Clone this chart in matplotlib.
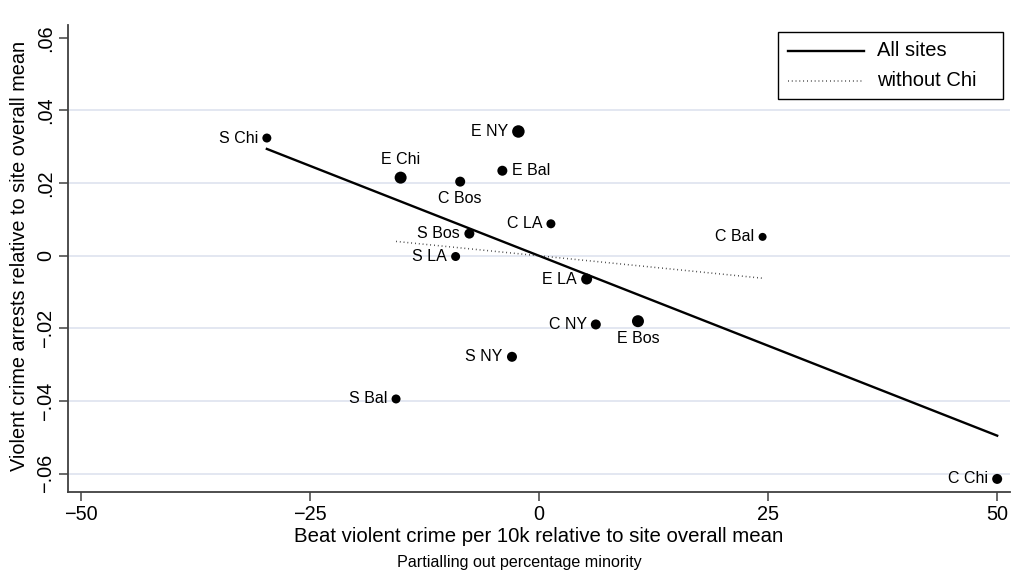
import numpy as np
import matplotlib.pyplot as plt
from matplotlib.lines import Line2D
from matplotlib.patches import Rectangle

plt.rcParams['font.family'] = ['Liberation Sans', 'DejaVu Sans']

# site/arm labels, beat violent crime (x) and violent crime arrests (y)
labels = ['S Chi', 'E NY', 'E Chi', 'C Bos', 'E Bal', 'C LA', 'S Bos', 'S LA',
          'E LA', 'C NY', 'E Bos', 'S NY', 'S Bal', 'C Bal', 'C Chi']
x_vals = [-29.7, -2.25, -15.1, -8.6, -4.0, 1.3, -7.6, -9.1,
          5.2, 6.2, 10.8, -2.95, -15.6, 24.4, 50.0]
y_vals = [0.0324, 0.0342, 0.0215, 0.0204, 0.0234, 0.0088, 0.0061, -0.0002,
          -0.0064, -0.0189, -0.0180, -0.0278, -0.0394, 0.0052, -0.0614]
# marker diameter in pixels (weights)
marker_px = [9, 12.5, 12, 10, 10, 9, 10, 9, 11, 10, 12, 10, 9, 8, 10]
# label position relative to the point
label_pos = ['left', 'left', 'top', 'bottom', 'right', 'left', 'left', 'left',
             'left', 'left', 'bottom', 'left', 'left', 'left', 'left']

# fitted slopes (lines pass through the origin)
slope_all = -0.00099
slope_nochi = -0.000253

x_ticks = [-50, -25, 0, 25, 50]
y_ticks = [-0.06, -0.04, -0.02, 0, 0.02, 0.04, 0.06]
y_ticklabels = ['-.06', '-.04', '-.02', '0', '.02', '.04', '.06']
grid_y = [-0.06, -0.04, -0.02, 0, 0.02, 0.04]

x = np.array(x_vals)
y = np.array(y_vals)

W, H = 1013, 578
fig = plt.figure(figsize=(W / 100, H / 100), dpi=100)
ax = fig.add_axes([68 / W, 1 - 492 / H, (1010 - 68) / W, (492 - 25) / H])

for g in grid_y:
    ax.axhline(g, color='#e1e5f0', lw=1.3, zorder=0)

solid_style = dict(color='black', lw=1.7)
dot_style = dict(color='#222222', lw=1.1, ls=(0, (0.5, 2.0)))

# regression lines
xa = np.array([x.min(), x.max()])
ax.plot(xa, slope_all * xa, zorder=2, **solid_style)
nochi = np.array(['Chi' not in s for s in labels])
xn = np.array([x[nochi].min(), x[nochi].max()])
ax.plot(xn, slope_nochi * xn, zorder=2, **dot_style)

ax.scatter(x, y, s=(np.array(marker_px) * 0.72) ** 2, color='black', zorder=3,
           linewidths=0)

for lab, xi, yi, pos, mp in zip(labels, x, y, label_pos, marker_px):
    off = mp / 2 * 0.72 + 3
    if pos == 'left':
        ax.annotate(lab, (xi, yi), xytext=(-off, 0), textcoords='offset points',
                    ha='right', va='center', fontsize=11.5)
    elif pos == 'right':
        ax.annotate(lab, (xi, yi), xytext=(off, 0), textcoords='offset points',
                    ha='left', va='center', fontsize=11.5)
    elif pos == 'top':
        ax.annotate(lab, (xi, yi), xytext=(0, off), textcoords='offset points',
                    ha='center', va='bottom', fontsize=11.5)
    else:
        ax.annotate(lab, (xi, yi), xytext=(0, -off), textcoords='offset points',
                    ha='center', va='top', fontsize=11.5)

ax.set_xlim(-51.4, 51.4)
ax.set_ylim(-0.065, 0.0635)
ax.set_xticks(x_ticks)
ax.set_xticklabels(['\u221250', '\u221225', '0', '25', '50'])
ax.set_yticks(y_ticks)
ax.set_yticklabels([t.replace('-', '\u2212') for t in y_ticklabels],
                   rotation=90, va='center')
ax.tick_params(axis='both', labelsize=14.3, length=6.3, width=1.1, color='#404040',
               pad=3)

for s in ['top', 'right']:
    ax.spines[s].set_visible(False)
for s in ['left', 'bottom']:
    ax.spines[s].set_color('#404040')
    ax.spines[s].set_linewidth(1.3)

ax.set_xlabel('Beat violent crime per 10k relative to site overall mean',
              fontsize=14.7, labelpad=2)
fig.text(20 / W, 1 - 256 / H,
         'Violent crime arrests relative to site overall mean',
         rotation=90, ha='center', va='center', fontsize=14.3)
fig.text(519 / W, 1 - 562 / H, 'Partialling out percentage minority',
         ha='center', va='center', fontsize=11.6)

# legend box drawn Stata-style
fig.add_artist(Rectangle((778 / W, 1 - 99 / H), (1003 - 778) / W, (99 - 32) / H,
                         transform=fig.transFigure, facecolor='white',
                         edgecolor='black', lw=1.0, zorder=5))
leg_items = [('All sites', solid_style, 51), ('without Chi', dot_style, 81)]
for text, style, ypx in leg_items:
    fig.add_artist(Line2D([788 / W, 864 / W], [1 - ypx / H] * 2,
                          transform=fig.transFigure, zorder=6, **style))
    fig.text(877 / W, 1 - ypx / H, text, ha='left', va='center',
             fontsize=14.5, zorder=6)

fig.savefig('out.png', dpi=100)
